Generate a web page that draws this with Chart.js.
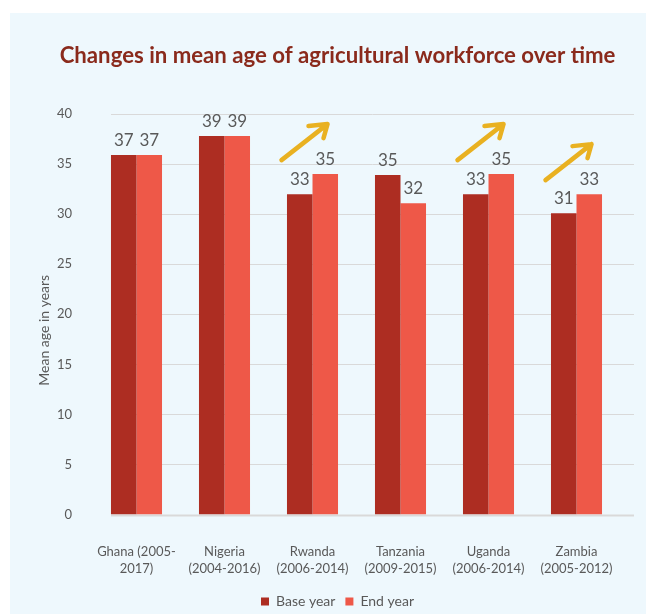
<!DOCTYPE html>
<html>
<head>
<meta charset="utf-8">
<script src="https://cdn.jsdelivr.net/npm/chart.js"></script>
<style>
  html, body { margin: 0; padding: 0; background: #ffffff; }
  #wrap { width: 646px; height: 614px; }
</style>
</head>
<body>
<div id="wrap"><canvas id="ageChart" width="646" height="614"></canvas></div>
<script>
const countries = [
    ['Ghana (2005-', '2017)'],
    ['Nigeria', '(2004-2016)'],
    ['Rwanda', '(2006-2014)'],
    ['Tanzania', '(2009-2015)'],
    ['Uganda', '(2006-2014)'],
    ['Zambia', '(2005-2012)']
];
const baseYear = [35.9, 37.8, 32, 33.9, 32, 30.1];
const endYear = [35.9, 37.8, 34, 31.1, 34, 32];
const baseLabels = ['37', '39', '33', '35', '33', '31'];
const endLabels = ['37', '39', '35', '32', '35', '33'];
const arrowAt = [2, 4, 5];
const yTicks = [0, 5, 10, 15, 20, 25, 30, 35, 40];

const textGrey = '#595959';

// light blue panel behind everything
const panel = {
    id: 'panel',
    beforeDraw(chart) {
        const ctx = chart.ctx;
        ctx.save();
        ctx.fillStyle = '#ffffff';
        ctx.fillRect(0, 0, chart.width, chart.height);
        ctx.fillStyle = '#eef8fd';
        ctx.fillRect(10, 13, chart.width - 10, chart.height - 13);
        ctx.restore();
    }
};

// horizontal gridlines, offset like the original plot area
const grid = {
    id: 'grid',
    beforeDatasetsDraw(chart) {
        const { ctx, chartArea, scales } = chart;
        ctx.save();
        ctx.strokeStyle = '#d9d9d9';
        yTicks.forEach(v => {
            const y = Math.round(scales.y.getPixelForValue(v)) + 0.5;
            ctx.lineWidth = v === 0 ? 2 : 1;
            ctx.beginPath();
            ctx.moveTo(chartArea.left + 18.5, y);
            ctx.lineTo(chartArea.right + 13.5, y);
            ctx.stroke();
        });
        ctx.restore();
    }
};

// value labels, arrows and the y axis title
const extras = {
    id: 'extras',
    afterDatasetsDraw(chart) {
        const { ctx, chartArea, scales } = chart;
        ctx.save();
        ctx.font = '17px Lato';
        ctx.fillStyle = textGrey;
        ctx.textAlign = 'center';
        ctx.textBaseline = 'middle';
        [baseLabels, endLabels].forEach((labels, d) => {
            chart.getDatasetMeta(d).data.forEach((bar, i) => {
                ctx.fillText(labels[i], bar.x, bar.y - 15);
            });
        });

        ctx.strokeStyle = '#e9b121';
        ctx.lineWidth = 4.5;
        ctx.lineCap = 'round';
        ctx.lineJoin = 'round';
        const endBars = chart.getDatasetMeta(1).data;
        arrowAt.forEach(i => {
            const cx = scales.x.getPixelForValue(i);
            const top = endBars[i].y;
            const tx = cx + 15, ty = top - 50;
            ctx.beginPath();
            ctx.moveTo(cx - 31, top - 14);
            ctx.lineTo(tx, ty);
            ctx.moveTo(tx - 19, ty + 2);
            ctx.lineTo(tx, ty);
            ctx.lineTo(tx - 4, ty + 14);
            ctx.stroke();
        });

        ctx.translate(44, (chartArea.top + chartArea.bottom) / 2 + 16);
        ctx.rotate(-Math.PI / 2);
        ctx.font = '14px Lato';
        ctx.fillStyle = textGrey;
        ctx.fillText('Mean age in years', 0, 0);
        ctx.restore();
    }
};

new Chart(document.getElementById('ageChart'), {
    type: 'bar',
    data: {
        labels: countries,
        datasets: [
            { label: 'Base year', data: baseYear, backgroundColor: '#ad2d22' },
            { label: 'End year', data: endYear, backgroundColor: '#ee5848' }
        ]
    },
    options: {
        responsive: false,
        animation: false,
        devicePixelRatio: 1,
        layout: { padding: { left: 54.5, right: 25.5, top: 0, bottom: -4.5 } },
        datasets: { bar: { categoryPercentage: 0.58, barPercentage: 1 } },
        plugins: {
            title: {
                display: true,
                text: 'Changes in mean age of agricultural workforce over time',
                color: '#8a2a1c',
                font: { family: 'Lato', size: 22.2, weight: 'bold' },
                padding: { top: 42.2, bottom: 45.2 }
            },
            legend: {
                position: 'bottom',
                labels: {
                    color: textGrey,
                    font: { family: 'Lato', size: 14 },
                    boxWidth: 8,
                    boxHeight: 8,
                    padding: 10
                }
            },
            tooltip: { enabled: false }
        },
        scales: {
            x: {
                grid: { display: false, drawTicks: false },
                border: { display: false },
                ticks: {
                    color: textGrey,
                    font: { family: 'Lato', size: 13, lineHeight: 1.3 },
                    padding: 28.5,
                    maxRotation: 0,
                    autoSkip: false
                },
                afterFit(scale) { scale.height = 70; }
            },
            y: {
                min: 0,
                max: 40,
                grid: { display: false, drawTicks: false },
                border: { display: false },
                ticks: {
                    stepSize: 5,
                    color: textGrey,
                    font: { family: 'Lato', size: 13 },
                    padding: 20.5
                },
                afterFit(scale) { scale.width = 38; }
            }
        }
    },
    plugins: [panel, grid, extras]
});
</script>
</body>
</html>
